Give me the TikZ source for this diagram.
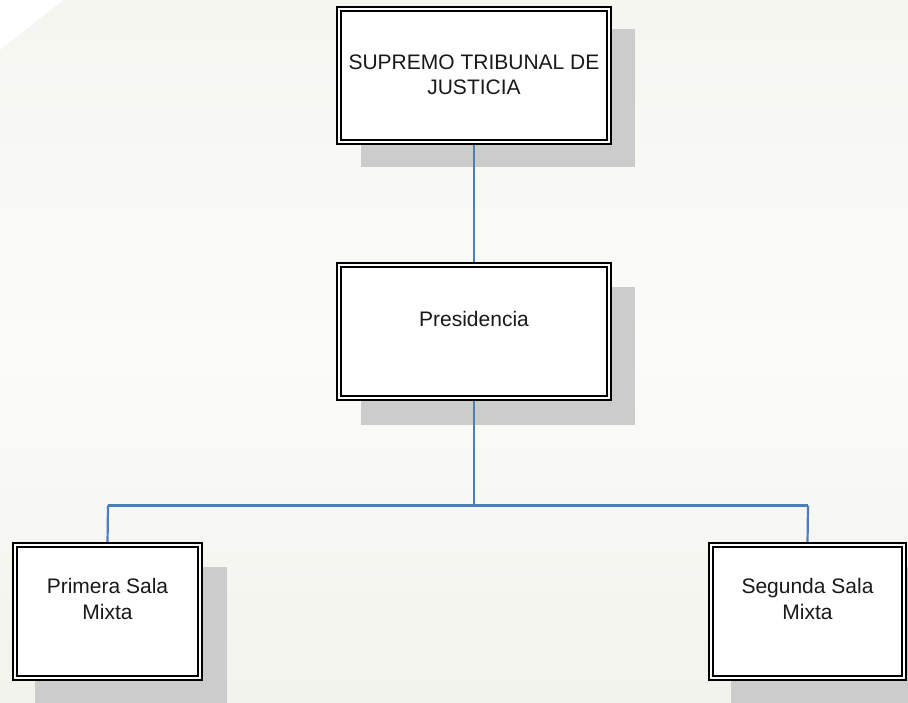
\documentclass[tikz,border=0pt]{standalone}
\usepackage{fontspec}
\setmainfont{Liberation Sans}
\definecolor{bgtop}{RGB}{245,246,240}
\definecolor{bgmid}{RGB}{251,251,249}
\definecolor{bgbot}{RGB}{242,243,236}
\definecolor{shadowgray}{RGB}{204,204,204}
\definecolor{linkblue}{RGB}{74,126,193}
\tikzset{
  orgbox/.style={draw=black, line width=2pt, double=white, double distance=2.6pt,
    fill=white, minimum width=270pt, minimum height=133pt, inner sep=0pt},
  smallbox/.style={orgbox, minimum width=185pt},
  boxshadow/.style={fill=shadowgray, draw=none},
  boxtext/.style={font=\fontsize{21pt}{25.5pt}\selectfont, align=center, inner sep=0pt, text=black!90},
  link/.style={draw=linkblue, line width=2.2pt}
}
\begin{document}
\begin{tikzpicture}[x=1pt,y=-1pt]
\useasboundingbox (0,0) rectangle (908,703);
% background
\shade[top color=bgtop, bottom color=bgmid] (0,0) rectangle (908,351);
\shade[top color=bgmid, bottom color=bgbot] (0,351) rectangle (908,703);
\fill[white] (0,0) -- (63,0) -- (0,50) -- cycle;
% shadows
\fill[boxshadow] (361,29) rectangle (635,167);
\fill[boxshadow] (361,287) rectangle (635,425);
\fill[boxshadow] (35,567) rectangle (227,703);
\fill[boxshadow] (731,567) rectangle (908,703);
% connector junctions
\coordinate (j) at (474,505.5);
\coordinate (jl) at (108,505.5);
\coordinate (jr) at (808,505.5);
% boxes
\node[orgbox] (stj) at (474,75.5) {};
\node[orgbox] (pres) at (474,331.5) {};
\node[smallbox] (sala1) at (107.5,611.5) {};
\node[smallbox, minimum width=193pt] (sala2) at (807.5,611.5) {};
\draw[link] (stj.south) -- (pres.north);
\draw[link] (pres.south) -- (j);
\draw[link] (jl) -- (jr);
\draw[link] (jl) -- (sala1.north);
\draw[link] (jr) -- (sala2.north);
% redraw boxes on top of connector ends
\node[orgbox] at (474,75.5) {};
\node[orgbox] at (474,331.5) {};
\node[smallbox] at (107.5,611.5) {};
\node[smallbox, minimum width=193pt] at (807.5,611.5) {};
% texts
\node[boxtext, anchor=base] (t1) at (474,95) {SUPREMO TRIBUNAL DE\\JUSTICIA};
\node[boxtext, anchor=base] (t2) at (474,327) {Presidencia};
\node[boxtext, anchor=base] (t3) at (107.5,619) {Primera Sala\\Mixta};
\node[boxtext, anchor=base] (t4) at (807.5,619) {Segunda Sala\\Mixta};
\end{tikzpicture}
\end{document}
